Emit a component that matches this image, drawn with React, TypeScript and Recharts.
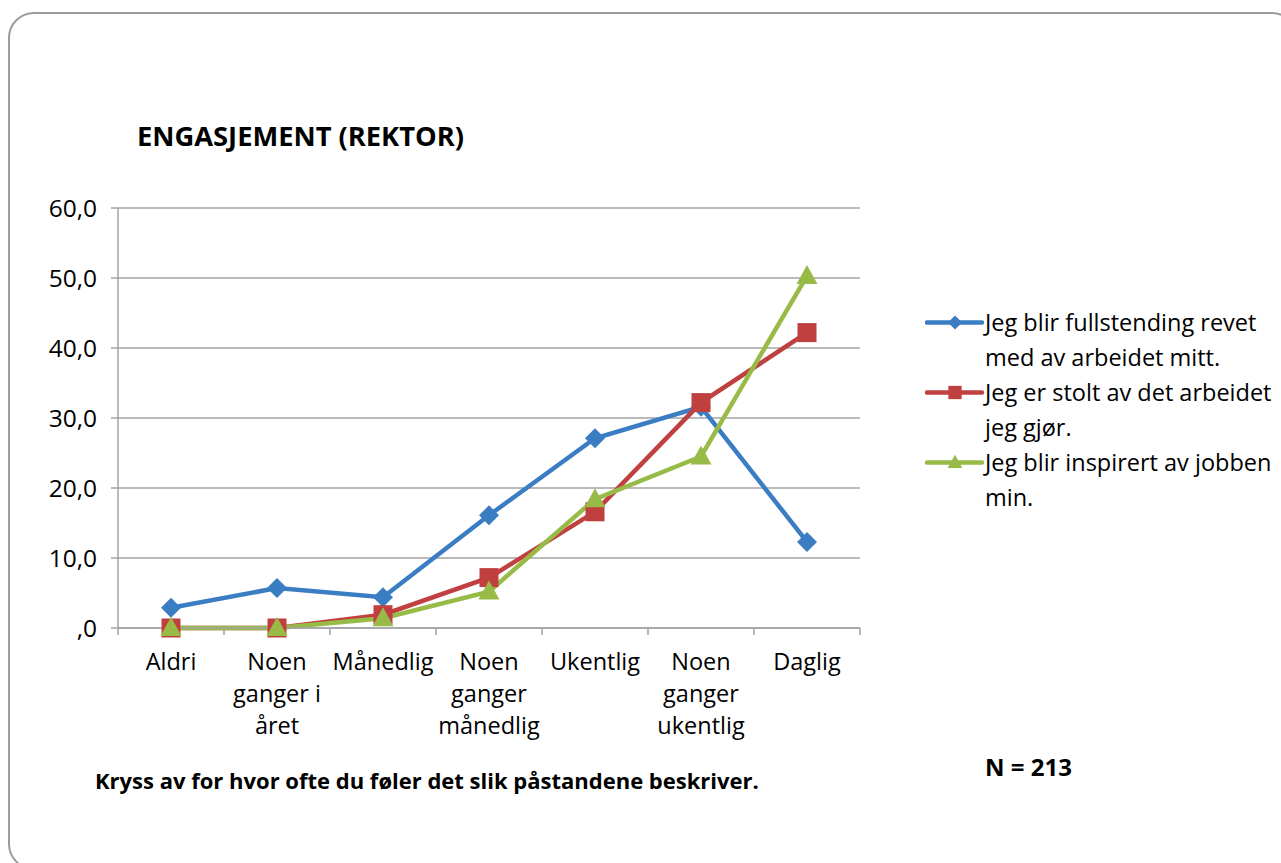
import React from 'react';
import { LineChart, Line, XAxis, YAxis, CartesianGrid, Legend } from 'recharts';

const categories = ['Aldri', 'Noen ganger i året', 'Månedlig', 'Noen ganger månedlig', 'Ukentlig', 'Noen ganger ukentlig', 'Daglig'];
const categoryLabelLines = [
  ['Aldri'],
  ['Noen', 'ganger i', 'året'],
  ['Månedlig'],
  ['Noen', 'ganger', 'månedlig'],
  ['Ukentlig'],
  ['Noen', 'ganger', 'ukentlig'],
  ['Daglig'],
];
const revet = [2.9, 5.7, 4.4, 16.1, 27.1, 31.6, 12.3];
const stolt = [0.0, 0.0, 1.9, 7.2, 16.6, 32.2, 42.2];
const inspirert = [0.0, 0.0, 1.4, 5.2, 18.4, 24.5, 50.3];
const yTicks = [0, 10, 20, 30, 40, 50, 60];

const seriesKeys = ['revet', 'stolt', 'inspirert'] as const;
const seriesNames = {
  revet: 'Jeg blir fullstending revet med av arbeidet mitt.',
  stolt: 'Jeg er stolt av det arbeidet jeg gjør.',
  inspirert: 'Jeg blir inspirert av jobben min.',
};

const title = 'ENGASJEMENT (REKTOR)';
const footnote = 'Kryss av for hvor ofte du føler det slik påstandene beskriver.';
const nText = 'N = 213';

const COLORS = { revet: '#3a7dc2', stolt: '#c0403f', inspirert: '#98bb48' };
const SHAPES: Record<string, string> = { revet: 'diamond', stolt: 'square', inspirert: 'triangle' };
const FONT = '"Open Sans", "Noto Sans", sans-serif';
const GRID = '#a3a3a3';

const data = categories.map((name, i) => ({
  name,
  idx: i,
  revet: revet[i],
  stolt: stolt[i],
  inspirert: inspirert[i],
}));
const boundaryTicks = [...categories.map((_, i) => i - 0.5), categories.length - 0.5];

function Marker({ shape, cx, cy, color, s = 1 }: any) {
  if (cx == null || cy == null) return null;
  if (shape === 'diamond') {
    const r = 10 * s;
    return <polygon points={`${cx},${cy - r} ${cx + r},${cy} ${cx},${cy + r} ${cx - r},${cy}`} fill={color} />;
  }
  if (shape === 'square') {
    const h = 9.5 * s;
    return <rect x={cx - h} y={cy - h} width={2 * h} height={2 * h} fill={color} />;
  }
  const w = 10.5 * s;
  return <polygon points={`${cx},${cy - 11 * s} ${cx + w},${cy + 8 * s} ${cx - w},${cy + 8 * s}`} fill={color} />;
}

const makeDot = (key: string) => (props: any) => (
  <Marker key={`${key}-${props.index}`} shape={SHAPES[key]} cx={props.cx} cy={props.cy} color={(COLORS as any)[key]} />
);

const fmtY = (v: number) => (v === 0 ? ',0' : v.toFixed(1).replace('.', ','));

function CatTick(props: any) {
  const { x, y, index } = props;
  const lines = categoryLabelLines[index] || [];
  return (
    <text x={x} y={y} textAnchor="middle" fill="#000" style={{ fontFamily: FONT, fontSize: 23.5 }}>
      {lines.map((l, i) => (
        <tspan key={i} x={x} y={y + 28 + i * 32}>{l}</tspan>
      ))}
    </text>
  );
}

const EmptyTick = () => <g />;

function LegendContent(props: any) {
  const payload = [...(props.payload || [])].sort(
    (a: any, b: any) => seriesKeys.indexOf(a.dataKey) - seriesKeys.indexOf(b.dataKey)
  );
  return (
    <div style={{ fontFamily: FONT, fontSize: 23.5, lineHeight: '35px', color: '#000' }}>
      {payload.map((p: any) => (
        <div key={p.dataKey} style={{ display: 'flex', alignItems: 'flex-start' }}>
          <svg width={60} height={35} style={{ flex: 'none' }}>
            <line x1={2} y1={17.5} x2={57} y2={17.5} stroke={p.color} strokeWidth={4.5} strokeLinecap="round" />
            <Marker shape={SHAPES[p.dataKey]} cx={30} cy={17.5} color={p.color} s={0.7} />
          </svg>
          <div style={{ width: 296 }}>{p.value}</div>
        </div>
      ))}
    </div>
  );
}

export default function App() {
  return (
    <div style={{ position: 'fixed', left: 0, top: 0, width: 1281, height: 863, overflow: 'hidden', background: '#fff' }}>
      <div style={{ position: 'absolute', left: 8, top: 12, width: 1290, height: 858, border: '2px solid #9c9c9c', borderRadius: 26, boxSizing: 'border-box' }} />
      <div style={{ position: 'absolute', left: 137, top: 117, fontFamily: FONT, fontWeight: 700, fontSize: 27.3, lineHeight: '38px', color: '#000', whiteSpace: 'nowrap' }}>{title}</div>
      <div style={{ position: 'absolute', left: 95, top: 765, fontFamily: FONT, fontWeight: 700, fontSize: 22, lineHeight: '30px', color: '#000', whiteSpace: 'nowrap' }}>{footnote}</div>
      <div style={{ position: 'absolute', left: 985, top: 751, fontFamily: FONT, fontWeight: 700, fontSize: 24, lineHeight: '32px', color: '#000', whiteSpace: 'nowrap' }}>{nText}</div>
      <div style={{ position: 'absolute', left: 0, top: 0 }}>
        <LineChart width={1281} height={863} data={data} margin={{ top: 208, right: 421, bottom: 129, left: 58 }}>
          <CartesianGrid xAxisId="a_num" vertical={false} stroke={GRID} strokeWidth={1.5} />
          <XAxis
            xAxisId="z_cat"
            dataKey="name"
            type="category"
            scale="band"
            axisLine={false}
            tickLine={false}
            interval={0}
            height={100}
            tick={<CatTick />}
          />
          <XAxis
            xAxisId="a_num"
            type="number"
            dataKey="idx"
            domain={[-0.5, categories.length - 0.5]}
            ticks={boundaryTicks}
            tick={EmptyTick}
            tickSize={7}
            tickLine={{ stroke: GRID, strokeWidth: 1.5 }}
            axisLine={{ stroke: GRID, strokeWidth: 1.5 }}
            height={6}
            interval={0}
            allowDataOverflow
          />
          <YAxis
            domain={[0, 60]}
            ticks={yTicks}
            tickFormatter={fmtY}
            width={60}
            tickSize={7}
            tickMargin={14}
            tickLine={{ stroke: GRID, strokeWidth: 1.5 }}
            axisLine={{ stroke: GRID, strokeWidth: 1.5 }}
            tick={{ fill: '#000', fontFamily: FONT, fontSize: 24.5 }}
          />
          <Legend
            layout="vertical"
            verticalAlign="middle"
            align="center"
            content={<LegendContent />}
            wrapperStyle={{ position: 'absolute', left: 925, top: 305, width: 356 }}
          />
          {seriesKeys.map((k) => (
            <Line
              key={k}
              xAxisId="a_num"
              dataKey={k}
              name={seriesNames[k]}
              stroke={COLORS[k]}
              strokeWidth={4.5}
              dot={makeDot(k)}
              activeDot={false}
              isAnimationActive={false}
            />
          ))}
        </LineChart>
      </div>
    </div>
  );
}
